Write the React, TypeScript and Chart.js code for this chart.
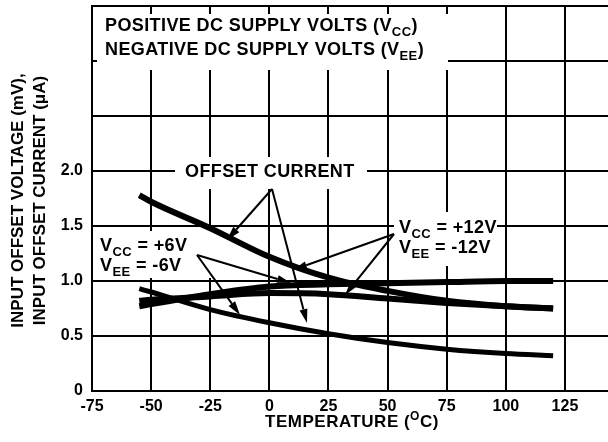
import React, { useEffect, useRef } from 'react';
import { Chart, registerables } from 'chart.js';

Chart.register(...registerables);

// ---- data ----
const temperatures = [-55, -50, -25, 0, 25, 50, 75, 100, 120];
const offsetCurrent12V = [1.78, 1.72, 1.48, 1.22, 1.03, 0.91, 0.82, 0.77, 0.75];
const offsetCurrent6V = [0.93, 0.9, 0.74, 0.62, 0.52, 0.44, 0.38, 0.34, 0.32];
const offsetVoltage6V = [0.77, 0.79, 0.88, 0.95, 0.97, 0.98, 0.99, 1.0, 1.0];
const offsetVoltage12V = [0.82, 0.83, 0.86, 0.89, 0.88, 0.84, 0.8, 0.77, 0.75];
const xTickValues = [-75, -50, -25, 0, 25, 50, 75, 100, 125];
const yTickValues = [0, 0.5, 1.0, 1.5, 2.0, 2.5, 3.0, 3.5];
const yLabelMax = 2.0;

const FONT = '"Liberation Sans", Arial, Helvetica, sans-serif';

type Seg = { t: string; sub?: boolean; sup?: boolean };

function segFont(s: Seg, size: number) {
  const sz = s.sub || s.sup ? Math.round(size * 0.72) : size;
  return `bold ${sz}px ${FONT}`;
}

function richWidth(ctx: CanvasRenderingContext2D, segs: Seg[], size: number) {
  let w = 0;
  for (const s of segs) {
    ctx.font = segFont(s, size);
    w += ctx.measureText(s.t).width;
  }
  return w;
}

function drawRich(
  ctx: CanvasRenderingContext2D,
  x: number,
  y: number,
  segs: Seg[],
  size: number,
  align: 'left' | 'center' = 'left'
) {
  ctx.save();
  ctx.fillStyle = '#000';
  ctx.textAlign = 'left';
  ctx.textBaseline = 'alphabetic';
  let cx = x;
  if (align === 'center') cx = x - richWidth(ctx, segs, size) / 2;
  for (const s of segs) {
    ctx.font = segFont(s, size);
    const dy = s.sub ? size * 0.25 : s.sup ? -size * 0.42 : 0;
    ctx.fillText(s.t, cx, y + dy);
    cx += ctx.measureText(s.t).width;
  }
  ctx.restore();
}

function arrow(ctx: CanvasRenderingContext2D, x1: number, y1: number, x2: number, y2: number) {
  const ang = Math.atan2(y2 - y1, x2 - x1);
  const len = 14;
  const hw = 4;
  const bx = x2 - len * Math.cos(ang);
  const by = y2 - len * Math.sin(ang);
  ctx.save();
  ctx.strokeStyle = '#000';
  ctx.fillStyle = '#000';
  ctx.lineWidth = 2;
  ctx.beginPath();
  ctx.moveTo(x1, y1);
  ctx.lineTo(bx, by);
  ctx.stroke();
  ctx.beginPath();
  ctx.moveTo(x2, y2);
  ctx.lineTo(bx + hw * Math.sin(ang), by - hw * Math.cos(ang));
  ctx.lineTo(bx - hw * Math.sin(ang), by + hw * Math.cos(ang));
  ctx.closePath();
  ctx.fill();
  ctx.restore();
}

const annotationPlugin = {
  id: 'annotations',
  beforeDatasetsDraw(chart: any) {
    const ctx: CanvasRenderingContext2D = chart.ctx;
    ctx.save();
    ctx.fillStyle = '#fff';
    // white boxes behind labels (cover grid lines)
    ctx.fillRect(97, 14, 351, 56);
    ctx.fillRect(175, 157, 192, 32);
    ctx.fillRect(95, 231, 117, 47);
    ctx.fillRect(394, 212, 103, 54);
    ctx.restore();
  },
  afterDatasetsDraw(chart: any) {
    const ctx: CanvasRenderingContext2D = chart.ctx;
    ctx.save();
    try { (ctx as any).letterSpacing = '0.4px'; } catch (e) {}
    const size = 18;
    drawRich(ctx, 105, 31, [{ t: 'POSITIVE DC SUPPLY VOLTS (V' }, { t: 'CC', sub: true }, { t: ')' }], size);
    drawRich(ctx, 105, 55, [{ t: 'NEGATIVE DC SUPPLY VOLTS (V' }, { t: 'EE', sub: true }, { t: ')' }], size);
    drawRich(ctx, 185, 177, [{ t: 'OFFSET CURRENT' }], size);
    drawRich(ctx, 100, 251, [{ t: 'V' }, { t: 'CC', sub: true }, { t: ' = +6V' }], size);
    drawRich(ctx, 100, 271, [{ t: 'V' }, { t: 'EE', sub: true }, { t: ' = -6V' }], size);
    drawRich(ctx, 399, 233, [{ t: 'V' }, { t: 'CC', sub: true }, { t: ' = +12V' }], size);
    drawRich(ctx, 399, 253, [{ t: 'V' }, { t: 'EE', sub: true }, { t: ' = -12V' }], size);
    ctx.restore();

    arrow(ctx, 272, 189, 227, 240);
    arrow(ctx, 272, 189, 307, 323);
    arrow(ctx, 197, 255, 291, 283);
    arrow(ctx, 197, 255, 240, 315);
    arrow(ctx, 394, 234, 293, 270);
    arrow(ctx, 394, 234, 345, 295);
  },
  afterDraw(chart: any) {
    const ctx: CanvasRenderingContext2D = chart.ctx;
    ctx.save();
    try { (ctx as any).letterSpacing = '0.5px'; } catch (e) {}
    drawRich(ctx, 352, 427, [{ t: 'TEMPERATURE (' }, { t: 'O', sup: true }, { t: 'C)' }], 17, 'center');
    ctx.restore();

    const area = chart.chartArea;
    const cy = (area.top + area.bottom) / 2 + 2;
    ctx.save();
    ctx.fillStyle = '#000';
    ctx.font = `bold 17px ${FONT}`;
    ctx.textAlign = 'center';
    ctx.textBaseline = 'middle';
    ctx.translate(18, cy);
    ctx.rotate(-Math.PI / 2);
    ctx.fillText('INPUT OFFSET VOLTAGE (mV),', 0, 0);
    ctx.fillText('INPUT OFFSET CURRENT (\u03BCA)', 0, 22);
    ctx.restore();
  },
};

export default function App() {
  const ref = useRef<HTMLCanvasElement>(null);

  useEffect(() => {
    if (!ref.current) return;
    const line = (data: number[], width: number) => ({
      data: temperatures.map((t, i) => ({ x: t, y: data[i] })),
      borderColor: '#000',
      borderWidth: width,
      pointRadius: 0,
      fill: false,
      tension: 0.4,
      cubicInterpolationMode: 'monotone' as const,
      borderCapStyle: 'butt' as const,
    });
    const tickFont = { family: FONT, size: 16, weight: 'bold' as const };
    const chart = new Chart(ref.current, {
      type: 'line',
      data: {
        datasets: [
          line(offsetCurrent12V, 6),
          line(offsetCurrent6V, 5),
          line(offsetVoltage6V, 6),
          line(offsetVoltage12V, 6),
        ],
      },
      options: {
        animation: false,
        responsive: false,
        devicePixelRatio: 1,
        layout: { padding: { top: 6, left: 0, right: 0, bottom: 0 } },
        plugins: {
          legend: { display: false },
          tooltip: { enabled: false },
        },
        scales: {
          x: {
            type: 'linear',
            min: -75,
            max: 143.2,
            afterBuildTicks: (scale: any) => {
              scale.ticks = xTickValues.map((v) => ({ value: v }));
            },
            afterFit: (scale: any) => {
              scale.height = 51;
              scale.paddingLeft = 0;
              scale.paddingRight = 0;
            },
            ticks: {
              font: tickFont,
              color: '#000',
              padding: 6,
              maxRotation: 0,
              autoSkip: false,
              callback: (v: any) => String(v),
            },
            grid: { color: '#000', lineWidth: 2, drawTicks: false },
            border: { color: '#000', width: 2 },
          },
          y: {
            min: 0,
            max: 3.5,
            afterBuildTicks: (scale: any) => {
              scale.ticks = yTickValues.map((v) => ({ value: v }));
            },
            afterFit: (scale: any) => {
              scale.width = 92;
              scale.paddingTop = 0;
              scale.paddingBottom = 0;
            },
            ticks: {
              font: tickFont,
              color: '#000',
              padding: 9,
              autoSkip: false,
              callback: (v: any) => (v === 0 ? '0' : v <= yLabelMax ? Number(v).toFixed(1) : ''),
            },
            grid: { color: '#000', lineWidth: 2, drawTicks: false },
            border: { color: '#000', width: 2 },
          },
        },
      },
      plugins: [annotationPlugin],
    });
    return () => chart.destroy();
  }, []);

  return (
    <div style={{ position: 'fixed', left: 0, top: 0, width: 608, height: 442, background: '#fff' }}>
      <canvas ref={ref} width={608} height={442} />
    </div>
  );
}
